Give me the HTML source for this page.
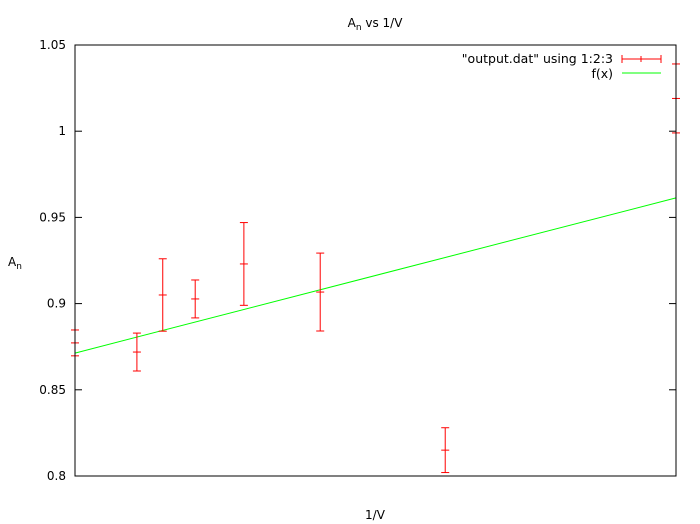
<!DOCTYPE html>
<html><head><meta charset="utf-8"><style>body{margin:0;background:#fff}svg{display:block;font-family:"DejaVu Sans","Liberation Sans",sans-serif}</style></head>
<body>
<svg id="chart" width="700" height="524" viewBox="0 0 700 524">
<rect width="700" height="524" fill="#fff"/>
<text x="375" y="27" font-size="12" text-anchor="middle">A<tspan font-size="9" dy="3">n</tspan><tspan dy="-3"> vs 1/V</tspan></text>
<text x="375" y="519" font-size="12" text-anchor="middle">1/V</text>
<text x="8" y="266" font-size="12">A<tspan font-size="9" dy="3">n</tspan></text>
<g id="axes"></g>
<g id="marks"></g>
<rect x="75" y="45" width="601" height="431" fill="none" stroke="#000" stroke-width="1"/>
<g font-size="12.5">
<text x="613" y="63" text-anchor="end">"output.dat" using 1:2:3</text>
<line x1="622" y1="59" x2="661" y2="59" stroke="#f00"/><line x1="622" y1="55" x2="622" y2="63" stroke="#f00"/><line x1="661" y1="55" x2="661" y2="63" stroke="#f00"/><line x1="641" y1="56" x2="641" y2="62" stroke="#f00"/>
<text x="613" y="78" text-anchor="end">f(x)</text>
<line x1="622" y1="73" x2="661" y2="73" stroke="#0f0"/>
</g>
</svg>
<script>
const xs=[0,0.103,0.146,0.2,0.281,0.408,0.616,1];
const ys=[0.8772,0.8719,0.905,0.9027,0.923,0.9067,0.815,1.019];
const errs=[0.0075,0.011,0.021,0.011,0.024,0.0226,0.013,0.02];
const fitA=0.8713, fitB=0.09;
const yTicks=[0.8,0.85,0.9,0.95,1,1.05];
const yTickLabels=["0.8","0.85","0.9","0.95","1","1.05"];
const L=75,R=676,T=45,B=476,ymin=0.8,ymax=1.05;
const sx=x=>L+x*(R-L);
const sy=y=>B-(y-ymin)/(ymax-ymin)*(B-T);
const NS="http://www.w3.org/2000/svg";
function mk(tag,attrs,parent){const e=document.createElementNS(NS,tag);for(const k in attrs)e.setAttribute(k,attrs[k]);parent.appendChild(e);return e;}
const axes=document.getElementById('axes'),marks=document.getElementById('marks');
yTicks.forEach((v,i)=>{const y=sy(v);
const t1=mk('line',{x1:L,y1:y,x2:L+7,y2:y,stroke:'#000'},axes);


const t2=mk('line',{x1:R-7,y1:y,x2:R,y2:y,stroke:'#000'},axes);


const tx=mk('text',{x:L-9,y:y+4,'font-size':12,'text-anchor':'end'},axes);tx.textContent=yTickLabels[i];


});
const fl=mk('line',{x1:sx(0),y1:sy(fitA),x2:sx(1),y2:sy(fitA+fitB),stroke:'#0f0','stroke-width':1},marks);


xs.forEach((x,i)=>{const px=sx(x),yc=sy(ys[i]),yt=sy(ys[i]+errs[i]),yb=sy(ys[i]-errs[i]);
const g=mk('g',{stroke:'#f00','stroke-width':1},marks);


mk('line',{x1:px,y1:yt,x2:px,y2:yb},g);
mk('line',{x1:px-4,y1:yt,x2:px+4,y2:yt},g);
mk('line',{x1:px-4,y1:yb,x2:px+4,y2:yb},g);
mk('line',{x1:px-4,y1:yc,x2:px+4,y2:yc},g);
});
</script>
</body></html>
